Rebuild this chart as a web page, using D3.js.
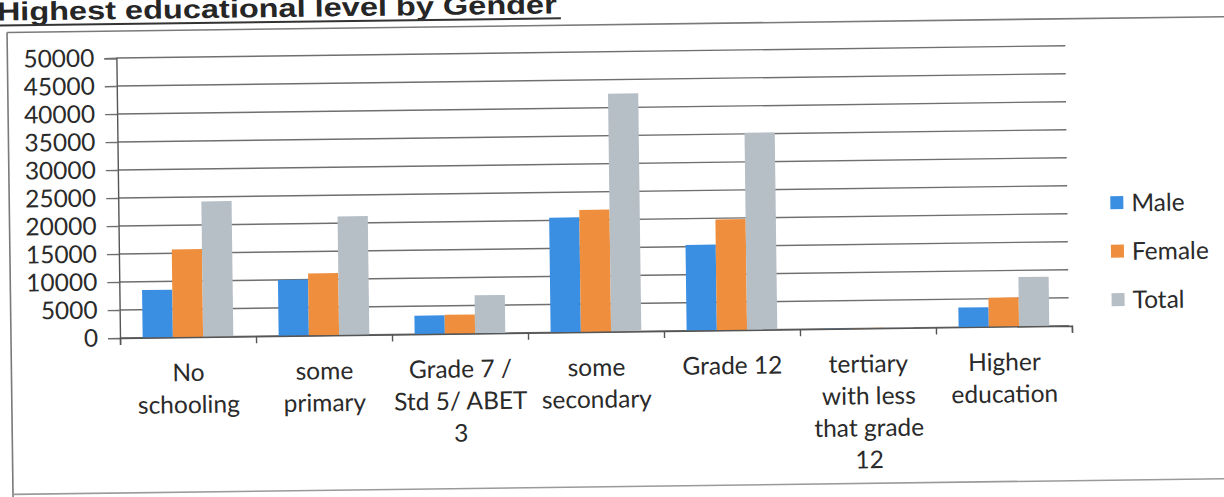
<!DOCTYPE html>
<html>
<head>
<meta charset="utf-8">
<script src="https://cdn.jsdelivr.net/npm/d3@7"></script>
<style>
  html, body { margin: 0; padding: 0; background: #ffffff; }
  svg { display: block; }
  .tick text { font-family: Lato, "Open Sans", sans-serif; }
</style>
</head>
<body>
<svg id="chart" width="1224" height="497"></svg>
<script>
// Highest educational level by gender — clustered columns
const categories = [
  "No schooling",
  "some primary",
  "Grade 7 / Std 5/ ABET 3",
  "some secondary",
  "Grade 12",
  "tertiary with less that grade 12",
  "Higher education"
];
const categoryLines = [
  ["No", "schooling"],
  ["some", "primary"],
  ["Grade 7 /", "Std 5/ ABET", "3"],
  ["some", "secondary"],
  ["Grade 12"],
  ["tertiary", "with less", "that grade", "12"],
  ["Higher", "education"]
];
const seriesNames = ["Male", "Female", "Total"];
const maleValues   = [8500, 10000, 3300, 20500, 15300, 40, 3500];
const femaleValues = [15700, 11100, 3400, 21800, 19800, 60, 5200];
const totalValues  = [24200, 21200, 6800, 42500, 35200, 100, 8800];
const yTicks = [0, 5000, 10000, 15000, 20000, 25000, 30000, 35000, 40000, 45000, 50000];
const titleText = "Highest educational level by Gender";

const colors = { Male: "#3b8fe3", Female: "#ef8e3d", Total: "#b6bec6" };
const seriesValues = { Male: maleValues, Female: femaleValues, Total: totalValues };

const svg = d3.select("#chart");
const plot = { left: 120, right: 1072, top: 58, bottom: 338 };
const labelFont = "Lato, 'Open Sans', sans-serif";
const labelSize = "24.5px";

// the whole page sits slightly tilted
const root = svg.append("g")
  .attr("transform", `rotate(-0.74, ${plot.left}, ${plot.bottom})`);

// chart-area frame
const frame = root.append("g").attr("stroke", "#7a7a7a").attr("fill", "none");
frame.append("line").attr("x1", 11).attr("x2", 1260).attr("y1", 31).attr("y2", 31).attr("stroke-width", 1.6);
frame.append("line").attr("x1", 11).attr("x2", 11).attr("y1", 31).attr("y2", 520).attr("stroke-width", 1.6);
frame.append("line").attr("x1", 11).attr("x2", 1260).attr("y1", 493).attr("y2", 493).attr("stroke", "#9a9a9a").attr("stroke-width", 1.6);

// title with underline
root.append("text")
  .attr("x", 1).attr("y", 19)
  .attr("textLength", 560).attr("lengthAdjust", "spacingAndGlyphs")
  .style("font-family", "'Liberation Sans', Arial, sans-serif")
  .style("font-weight", "bold")
  .style("font-size", "26px")
  .attr("fill", "#262626")
  .text(titleText);
root.append("line")
  .attr("x1", 0).attr("x2", 565).attr("y1", 24).attr("y2", 24)
  .attr("stroke", "#333").attr("stroke-width", 2);

// scales
const x0 = d3.scaleBand().domain(categories)
  .range([plot.left, plot.right]).paddingInner(1 / 3).paddingOuter(1 / 6);
const x1 = d3.scaleBand().domain(seriesNames).range([0, x0.bandwidth()]);
const y = d3.scaleLinear().domain([0, 50000]).range([plot.bottom, plot.top]);
const xEdges = d3.scaleLinear().domain([0, categories.length]).range([plot.left, plot.right]);

// horizontal gridlines
root.append("g")
  .selectAll("line")
  .data(yTicks)
  .join("line")
  .attr("x1", plot.left).attr("x2", plot.right - 3)
  .attr("y1", d => y(d)).attr("y2", d => y(d))
  .attr("stroke", "#6f6f6f").attr("stroke-width", 1.4);

// bars
const groups = root.append("g")
  .selectAll("g")
  .data(categories)
  .join("g")
  .attr("transform", d => `translate(${x0(d)},0)`);
groups.selectAll("rect")
  .data((d, i) => seriesNames.map(s => ({ s, v: seriesValues[s][i] })))
  .join("rect")
  .attr("x", d => x1(d.s))
  .attr("width", x1.bandwidth())
  .attr("y", d => y(d.v))
  .attr("height", d => y(0) - y(d.v))
  .attr("fill", d => colors[d.s]);

// value axis
const yAxis = root.append("g")
  .attr("transform", `translate(${plot.left},0)`)
  .call(d3.axisLeft(y).tickValues(yTicks).tickSize(12).tickPadding(10).tickFormat(d3.format("d")));
yAxis.select(".domain").attr("stroke", "#555").attr("stroke-width", 1.4);
yAxis.selectAll(".tick line").attr("stroke", "#6f6f6f").attr("stroke-width", 1.4);
yAxis.selectAll(".tick text")
  .attr("fill", "#2a2a2a")
  .style("font-size", labelSize);

// category axis: baseline with ticks between the groups
const xAxis = root.append("g")
  .attr("transform", `translate(0,${plot.bottom})`)
  .call(d3.axisBottom(xEdges).tickValues(d3.range(categories.length + 1)).tickSize(7).tickFormat(""));
xAxis.select(".domain").attr("stroke", "#555").attr("stroke-width", 1.4);
xAxis.selectAll(".tick line").attr("stroke", "#555").attr("stroke-width", 1.4);

// wrapped category labels
const labels = root.append("g")
  .selectAll("text")
  .data(categories)
  .join("text")
  .attr("x", d => x0(d) + x0.bandwidth() / 2)
  .attr("y", 382)
  .attr("text-anchor", "middle")
  .attr("fill", "#2a2a2a")
  .style("font-family", labelFont)
  .style("font-size", labelSize);
labels.selectAll("tspan")
  .data((d, i) => categoryLines[i])
  .join("tspan")
  .attr("x", function () { return d3.select(this.parentNode).attr("x"); })
  .attr("dy", (d, i) => i === 0 ? 0 : 32)
  .text(d => d);

// legend
const legend = root.append("g")
  .selectAll("g")
  .data(seriesNames)
  .join("g")
  .attr("transform", (d, i) => `translate(1112, ${215.5 + i * 48.5})`);
legend.append("rect")
  .attr("x", 0).attr("y", -6.5).attr("width", 13).attr("height", 13)
  .attr("fill", d => colors[d]);
legend.append("text")
  .attr("x", 21).attr("y", 0).attr("dy", "0.36em")
  .attr("fill", "#2a2a2a")
  .style("font-family", labelFont)
  .style("font-size", labelSize)
  .text(d => d);
</script>
</body>
</html>
